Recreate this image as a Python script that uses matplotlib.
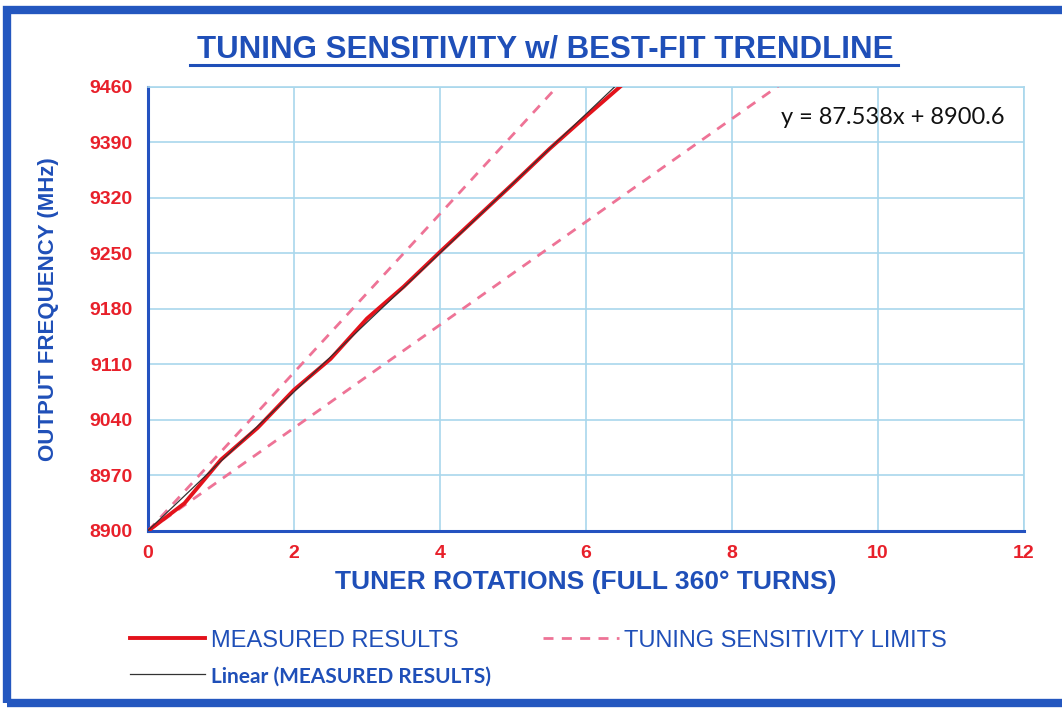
import numpy as np
import matplotlib
matplotlib.use("Agg")
import matplotlib.pyplot as plt
from matplotlib.patches import Rectangle

turns = [0, 0.5, 1, 1.5, 2, 2.5, 3, 3.5, 4, 4.5, 5, 5.5, 6, 6.5]
freq_mhz = [8900, 8935, 8990, 9030, 9078, 9117, 9168, 9208, 9252, 9295, 9338, 9382, 9423, 9463]

# trendline as printed on the chart
fit_slope = 87.538
fit_intercept = 8900.6

# tuning sensitivity limits (MHz per turn)
limit_hi = 100.0
limit_lo = 65.0
limit_x = [0, 12]

x_ticks = [0, 2, 4, 6, 8, 10, 12]
y_ticks = [8900, 8970, 9040, 9110, 9180, 9250, 9320, 9390, 9460]

blue = '#1f4fb8'
red_txt = '#e8202a'
grid_c = '#a9d7ec'

fig = plt.figure(figsize=(10.62, 7.09), dpi=100)
fig.patch.set_facecolor('white')

# blue frame round the whole picture
fig.patches.append(Rectangle((0.007, 0.008), 1.05, 0.978, transform=fig.transFigure,
                             fill=False, edgecolor='#2457bf', linewidth=6, zorder=0))

ax = fig.add_axes([0.1394, 0.2511, 0.8248, 0.6262])

lx = np.array(limit_x, dtype=float)
ax.plot(lx, 8900 + limit_hi * lx, color='#ee7396', lw=2, dashes=(3.6, 3.0), label='TUNING SENSITIVITY LIMITS', zorder=3)
ax.plot(lx, 8900 + limit_lo * lx, color='#ee7396', lw=2, dashes=(3.6, 3.0), zorder=3)

ax.plot(turns, freq_mhz, color='#e3121b', lw=2.8, label='MEASURED RESULTS', zorder=4)
ax.plot(lx, fit_intercept + fit_slope * lx, color='#333333', lw=0.9, label='Linear (MEASURED RESULTS)', zorder=5)

ax.set_xlim(0, 12)
ax.set_ylim(8900, 9460)
ax.set_xticks(x_ticks)
ax.set_yticks(y_ticks)
ax.grid(True, color=grid_c, lw=1.2)
ax.set_axisbelow(True)
ax.tick_params(axis='y', length=0, pad=11)
ax.tick_params(axis='x', length=0, pad=10)
for lab in ax.get_xticklabels() + ax.get_yticklabels():
    lab.set_color(red_txt)
    lab.set_fontweight('bold')
    lab.set_fontsize(14)
    lab.set_family('Liberation Sans')

for s in ['top', 'right']:
    ax.spines[s].set_color(grid_c)
    ax.spines[s].set_linewidth(1.2)
for s in ['left', 'bottom']:
    ax.spines[s].set_color('#2452c0')
    ax.spines[s].set_linewidth(2.2)

ax.set_xlabel('TUNER ROTATIONS (FULL 360° TURNS)', fontsize=19, fontweight='bold',
              color=blue, family='Liberation Sans', labelpad=6)
ax.set_ylabel('OUTPUT FREQUENCY (MHz)', fontsize=16, fontweight='bold',
              color=blue, family='Liberation Sans', labelpad=22)

fig.text(0.513, 0.93, 'TUNING SENSITIVITY w/ BEST-FIT TRENDLINE', ha='center', va='center',
         fontsize=22.5, fontweight='bold', color=blue, family='Liberation Sans')
# underline under the title
fig.add_artist(plt.Line2D([0.179, 0.846], [0.908, 0.908], transform=fig.transFigure,
                          color=blue, lw=2.2))

ax.text(0.978, 9421, 'y = 87.538x + 8900.6', transform=ax.get_yaxis_transform(),
        ha='right', va='center', fontsize=17, family=['Lato', 'DejaVu Sans'], color='#111111')

h, l = ax.get_legend_handles_labels()
order = [1, 2, 0]
leg = fig.legend([h[i] for i in order], [l[i] for i in order], ncol=2,
                 loc='upper left', bbox_to_anchor=(0.102, 0.142), frameon=False,
                 handlelength=3.2, handletextpad=0.25, columnspacing=2.2, labelspacing=0.6,
                 fontsize=17)
texts = leg.get_texts()
for t in texts:
    t.set_color(blue)
    t.set_family(['Liberation Sans Narrow', 'Liberation Sans'])
texts[1].set_family(['Lato', 'DejaVu Sans'])
texts[1].set_fontweight('bold')
texts[1].set_fontsize(15)

fig.savefig('out.png', dpi=100)
